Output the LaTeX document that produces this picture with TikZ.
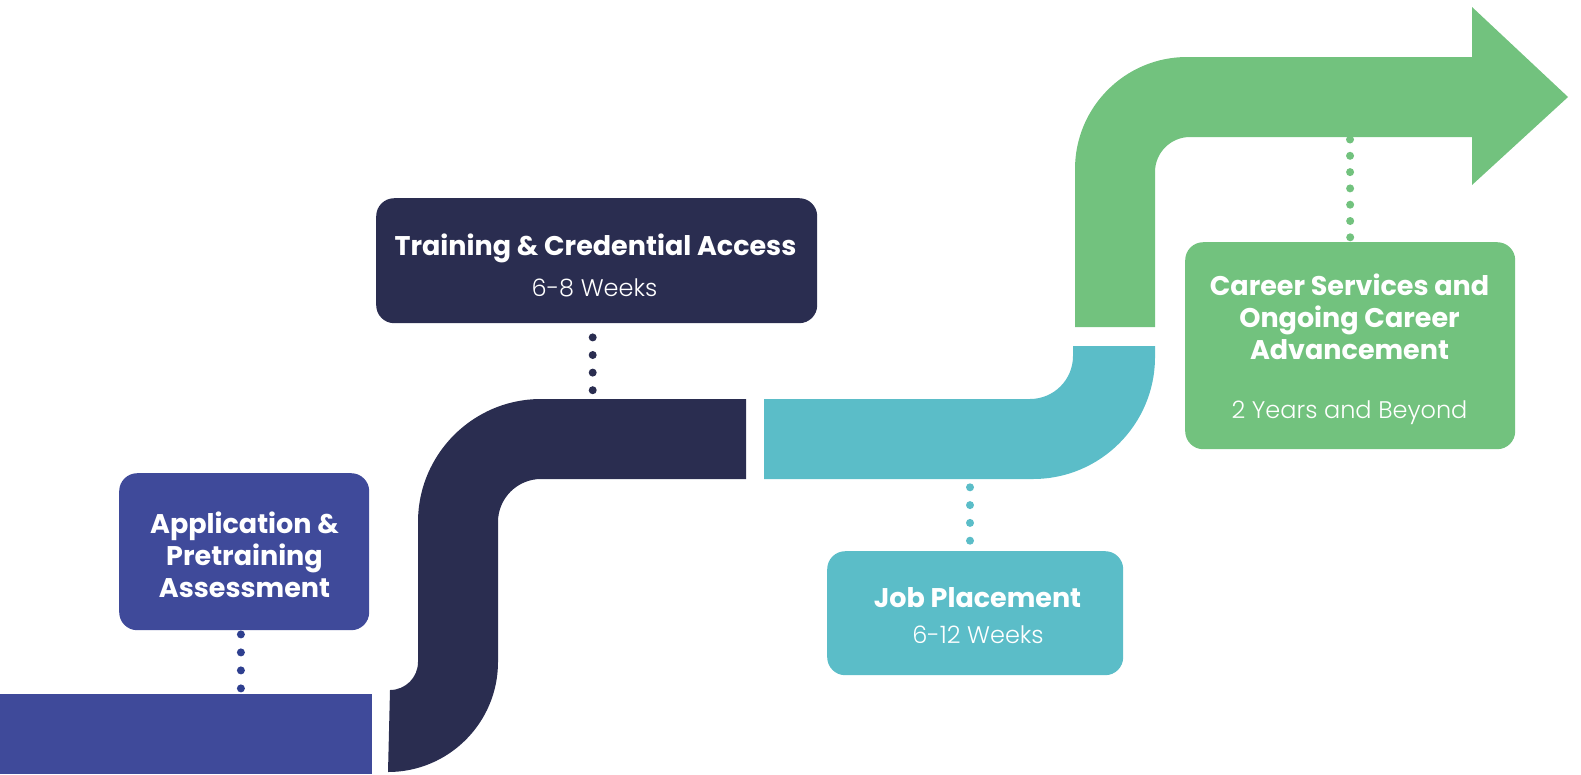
\documentclass[tikz,border=0pt]{standalone}
\usepackage{fontspec}
\setmainfont{Poppins}
\IfFontExistsTF{Poppins Light}{\newfontfamily\lightfont{Poppins Light}}{\newfontfamily\lightfont{Poppins}}
\usetikzlibrary{calc}
\definecolor{cblue}{HTML}{3F4A9A}
\definecolor{cbluedot}{HTML}{2E3F8F}
\definecolor{cnavy}{HTML}{2A2D50}
\definecolor{cteal}{HTML}{5BBDC8}
\definecolor{cgreen}{HTML}{72C27E}
\begin{document}
\begin{tikzpicture}[x=1pt,y=-1pt,
  box/.style={draw=none, rounded corners=18pt, inner sep=0pt, anchor=north west},
  title/.style={text=white, font=\fontsize{27}{32}\selectfont\bfseries, anchor=base, inner sep=0pt},
  sub/.style={text=white, font=\fontsize{24}{28}\selectfont\lightfont, anchor=base, inner sep=0pt},
  dotline/.style={line width=8pt, line cap=round, dash pattern=on 0pt off #1}]
\useasboundingbox (0,0) rectangle (1581,774);
% bands
\node[fill=cblue, inner sep=0pt, minimum width=372pt, minimum height=80pt, anchor=north west] (bar) at (0,694) {};
\fill[cnavy] (390,690) arc[start angle=90, end angle=0, radius=28] -- (418,522)
  arc[start angle=180, end angle=270, radius=123] -- (746,399) -- (746,479) -- (541,479)
  arc[start angle=270, end angle=180, radius=43] -- (498,662)
  arc[start angle=0, end angle=90, radius=110] -- cycle;
\fill[cteal] (764,399) -- (1030,399) arc[start angle=90, end angle=0, radius=43] -- (1073,346)
  -- (1155,346) -- (1155,357) arc[start angle=0, end angle=90, radius=122] -- (764,479) -- cycle;
\fill[cgreen] (1075,327) -- (1075,169) arc[start angle=180, end angle=270, radius=112]
  -- (1472,57) -- (1472,7) -- (1568,97) -- (1472,185) -- (1472,137) -- (1190,137)
  arc[start angle=270, end angle=180, radius=35] -- (1155,327) -- cycle;
\coordinate (navytop) at (592.7,399);
\coordinate (tealbot) at (970,479);
\coordinate (greenbot) at (1350,137);
% boxes
\node[box, fill=cblue, minimum width=250pt, minimum height=157pt] (appbox) at (119,473) {};
\node[box, fill=cnavy, minimum width=441pt, minimum height=125pt] (trainbox) at (376,198) {};
\node[box, fill=cteal, minimum width=296pt, minimum height=124pt] (jobbox) at (827,551) {};
\node[box, fill=cgreen, minimum width=330pt, minimum height=207pt] (careerbox) at (1185,242) {};
% dotted connectors
\draw[dotline=18pt, dash phase=14pt, cbluedot] ([xshift=-3.3pt]appbox.south) -- ([xshift=-3.3pt]appbox.south |- bar.north);
\draw[dotline=17.6pt, dash phase=3.6pt, cnavy] (trainbox.south -| navytop) -- (navytop);
\draw[dotline=17.8pt, dash phase=7.5pt, cteal] (jobbox.north -| tealbot) -- (tealbot);
\draw[dotline=16.3pt, dash phase=11.6pt, cgreen] (careerbox.north) -- (greenbot);
% texts
\node[title] (a1) at (244.5,533) {Application \&};
\node[title] (a2) at (244.5,565) {Pretraining};
\node[title] (a3) at (244.5,597) {Assessment};
\node[title] (t1) at (595.5,255) {Training \& Credential Access};
\node[sub] (t2) at (594.5,296) {6-8 Weeks};
\node[title] (j1) at (977.5,607) {Job Placement};
\node[sub] (j2) at (978,643) {6-12 Weeks};
\node[title] (c1) at (1349.5,295) {Career Services and};
\node[title] (c2) at (1349.5,327) {Ongoing Career};
\node[title] (c3) at (1349.5,359) {Advancement};
\node[sub] (c4) at (1349.5,418) {2 Years and Beyond};
\end{tikzpicture}
\end{document}
